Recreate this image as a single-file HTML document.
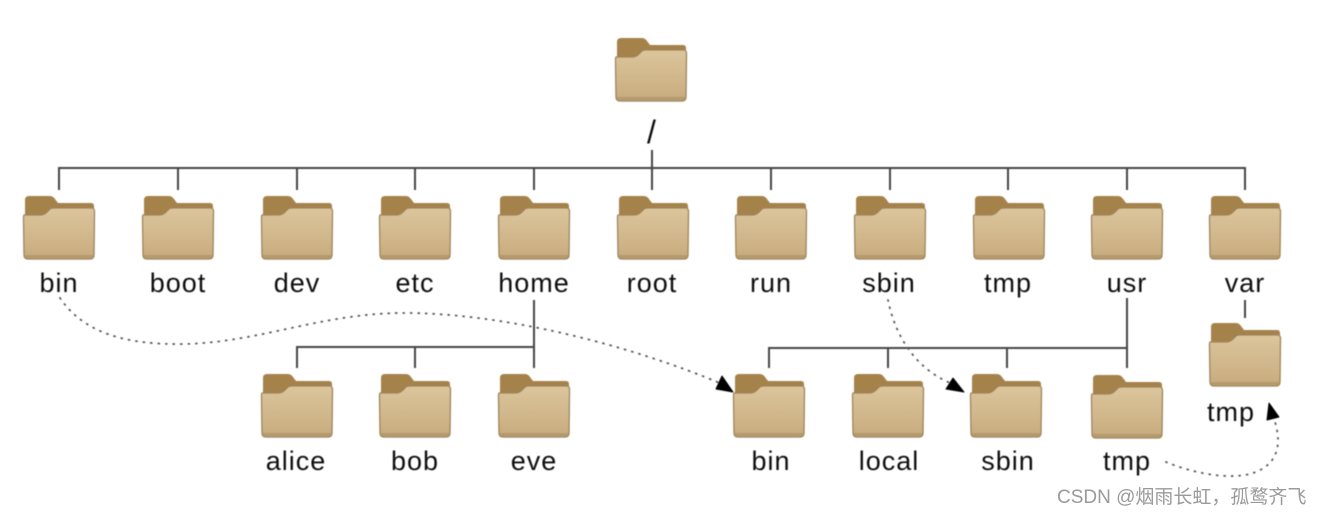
<!DOCTYPE html>
<html><head><meta charset="utf-8"><style>
html,body{margin:0;padding:0;background:#fff;width:1324px;height:514px;overflow:hidden}
svg{display:block}
.l{font:27px "Liberation Sans",sans-serif;fill:#111;text-anchor:middle;letter-spacing:1px}
.w{font:19px "Liberation Sans","Noto Sans CJK SC",sans-serif;fill:#9a9a9a}
</style></head><body>
<svg width="1324" height="514" viewBox="0 0 1324 514" xmlns="http://www.w3.org/2000/svg">
<defs>
<linearGradient id="g" x1="0" y1="0" x2="0" y2="1">
<stop offset="0" stop-color="#dcc59c"/><stop offset=".6" stop-color="#d0b68a"/><stop offset="1" stop-color="#c6aa7c"/>
</linearGradient>
<filter id="b" x="-5%" y="-5%" width="110%" height="110%"><feGaussianBlur stdDeviation=".4"/></filter>
<symbol id="f" width="74" height="66" viewBox="0 0 74 66" overflow="visible">
<path d="M2 4Q2 0 6 0H27Q30 0 32 3L35 7H68Q71 7 71 10V24H2Z" fill="#a6824c"/>
<path d="M1 19H17Q21 19 24 16L27 13Q28 12 31 12H69Q71 12 71.500 15L71 59Q71 63 67 63H5Q1 63 1 59L.5 22Q.5 19 1 19Z" fill="url(#g)" stroke="#9c8258" stroke-width="1.300"/>
<rect x="2" y="59" width="68" height="3" fill="#b59a6d"/>
</symbol>
</defs>
<g filter="url(#b)">
<g fill="none" stroke="#444" stroke-width="2">
<path d="M59 190V168H1245V190M178 168V190M297 168V190M415 168V190M534 168V190M652 150V190M771 168V190M890 168V190M1008 168V190M1127 168V190"/>
<path d="M534 300V347H297V368M415 347V368M534 347V368"/>
<path d="M1127 298V348H769V368M888 348V368M1007 348V368M1127 348V368"/>
<path d="M1245 300V318"/>
</g>
<g fill="none" stroke="#555" stroke-width="1.800" stroke-dasharray="1 6.500" stroke-linecap="round">
<path d="M60 298C85 335 130 345 185 344C260 342 320 314 400 313C500 312 630 345 722 384"/>
<path d="M888 300C895 335 915 370 955 385"/>
<path d="M1166 462C1190 472 1225 480 1250 474C1278 466 1282 445 1275 422"/>
</g>
<g fill="#000" stroke="#000" stroke-width="1" stroke-linejoin="round">
<path d="M722 376L716 389L733 392Z"/>
<path d="M953 378L946 389L964 392Z"/>
<path d="M1269 403L1267 420L1279 417Z"/>
</g>
<use href="#f" x="615" y="38"/>
<use href="#f" x="23" y="196"/><use href="#f" x="142" y="196"/><use href="#f" x="261" y="196"/><use href="#f" x="379" y="196"/><use href="#f" x="498" y="196"/><use href="#f" x="617" y="196"/><use href="#f" x="735" y="196"/><use href="#f" x="854" y="196"/><use href="#f" x="973" y="196"/><use href="#f" x="1091" y="196"/><use href="#f" x="1209" y="196"/>
<use href="#f" x="261" y="374"/><use href="#f" x="379" y="374"/><use href="#f" x="498" y="374"/><use href="#f" x="733" y="374"/><use href="#f" x="852" y="374"/><use href="#f" x="970" y="374"/><use href="#f" x="1091" y="375"/><use href="#f" x="1209" y="323"/>
<text class="l" x="652" y="143" style="font-size:32px">/</text>
<text class="l" x="59" y="292">bin</text><text class="l" x="178" y="292">boot</text><text class="l" x="297" y="292">dev</text><text class="l" x="415" y="292">etc</text><text class="l" x="534" y="292">home</text><text class="l" x="652" y="292">root</text><text class="l" x="771" y="292">run</text><text class="l" x="889" y="292">sbin</text><text class="l" x="1008" y="292">tmp</text><text class="l" x="1127" y="292">usr</text><text class="l" x="1245" y="292">var</text>
<text class="l" x="296" y="470">alice</text><text class="l" x="415" y="470">bob</text><text class="l" x="534" y="470">eve</text><text class="l" x="771" y="470">bin</text><text class="l" x="889" y="470">local</text><text class="l" x="1008" y="470">sbin</text><text class="l" x="1127" y="470">tmp</text><text class="l" x="1231" y="421">tmp</text>
</g>
<text class="w" x="1057" y="503">CSDN @烟雨长虹，孤鹜齐飞</text>
</svg>
</body></html>
